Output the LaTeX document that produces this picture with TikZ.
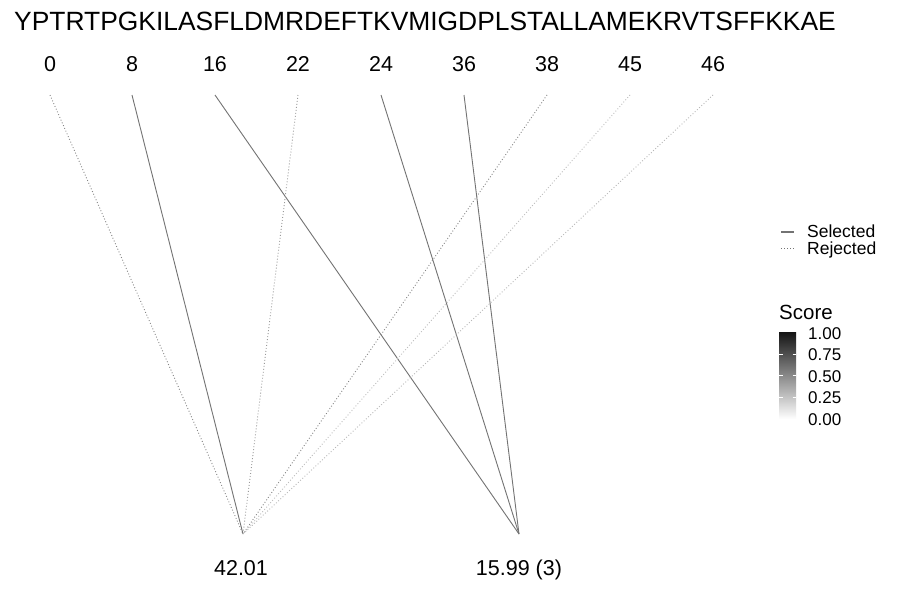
\documentclass[tikz,border=0pt]{standalone}
\usepackage{fontspec}
\setmainfont{Liberation Sans}
\begin{document}
\begin{tikzpicture}[x=1pt,y=-1pt,
  lbl/.style={inner sep=0pt,anchor=base,font=\fontsize{21.5}{24}\selectfont},
  leg/.style={inner sep=0pt,anchor=base west,font=\fontsize{17.5}{20}\selectfont},
  sel/.style={line width=0.9pt,draw=#1},
  rej/.style={line width=0.9pt,draw=#1,dash pattern=on 0.9pt off 2.1pt},
  tick/.style={draw=white,line width=0.6pt}]
\useasboundingbox (0,0) rectangle (900,600);
\fill[white] (0,0) rectangle (900,600);
% title
\node[inner sep=0pt,anchor=base,font=\fontsize{26.4}{30}\selectfont] (title) at (425,30) {YPTRTPGKILASFLDMRDEFTKVMIGDPLSTALLAMEKRVTSFFKKAE};
% top labels
\foreach \n/\x in {0/50,8/132,16/215,22/298,24/381,36/464,38/547,45/630,46/713}{
  \node[lbl] (t\n) at (\x,71) {\n};
  \coordinate (p\n) at (\x,95);
}
% bottom points and labels
\coordinate (a) at (243,534);
\coordinate (b) at (519,534);
\node[lbl] (la) at (241,575) {42.01};
\node[lbl] (lb) at (519,575) {15.99 (3)};
% connectors
\draw[rej=black!48] (p0) -- (a);
\draw[sel=black!55] (p8) -- (a);
\draw[sel=black!55] (p16) -- (b);
\draw[rej=black!40] (p22) -- (a);
\draw[sel=black!55] (p24) -- (b);
\draw[sel=black!55] (p36) -- (b);
\draw[rej=black!48] (p38) -- (a);
\draw[rej=black!26] (p45) -- (a);
\draw[rej=black!28] (p46) -- (a);
% legend: line type
\coordinate (s1) at (781,232); \coordinate (s2) at (794,232);
\draw[sel=black!55,line width=1.3pt] (s1) -- (s2);
\node[leg] (selt) at (807,237) {Selected};
\coordinate (r1) at (781,248); \coordinate (r2) at (794,248);
\draw[rej=black!55] (r1) -- (r2);
\node[leg] (rejt) at (807,254) {Rejected};
% legend: score
\node[inner sep=0pt,anchor=base west,font=\fontsize{20.5}{24}\selectfont] (score) at (779,319) {Score};
\shade[top color=black!92,bottom color=white] (779,332) rectangle (796,419);
\foreach \yy in {354,375.5,397}{
  \draw[tick] (779,\yy) -- (782.5,\yy);
  \draw[tick] (792.5,\yy) -- (796,\yy);
}
\foreach \val/\yy in {1.00/333,0.75/354.5,0.50/376,0.25/397.5,0.00/419}{
  \node[leg,font=\fontsize{17}{20}\selectfont] at (808,\yy+6) {\val};
}
\end{tikzpicture}
\end{document}
